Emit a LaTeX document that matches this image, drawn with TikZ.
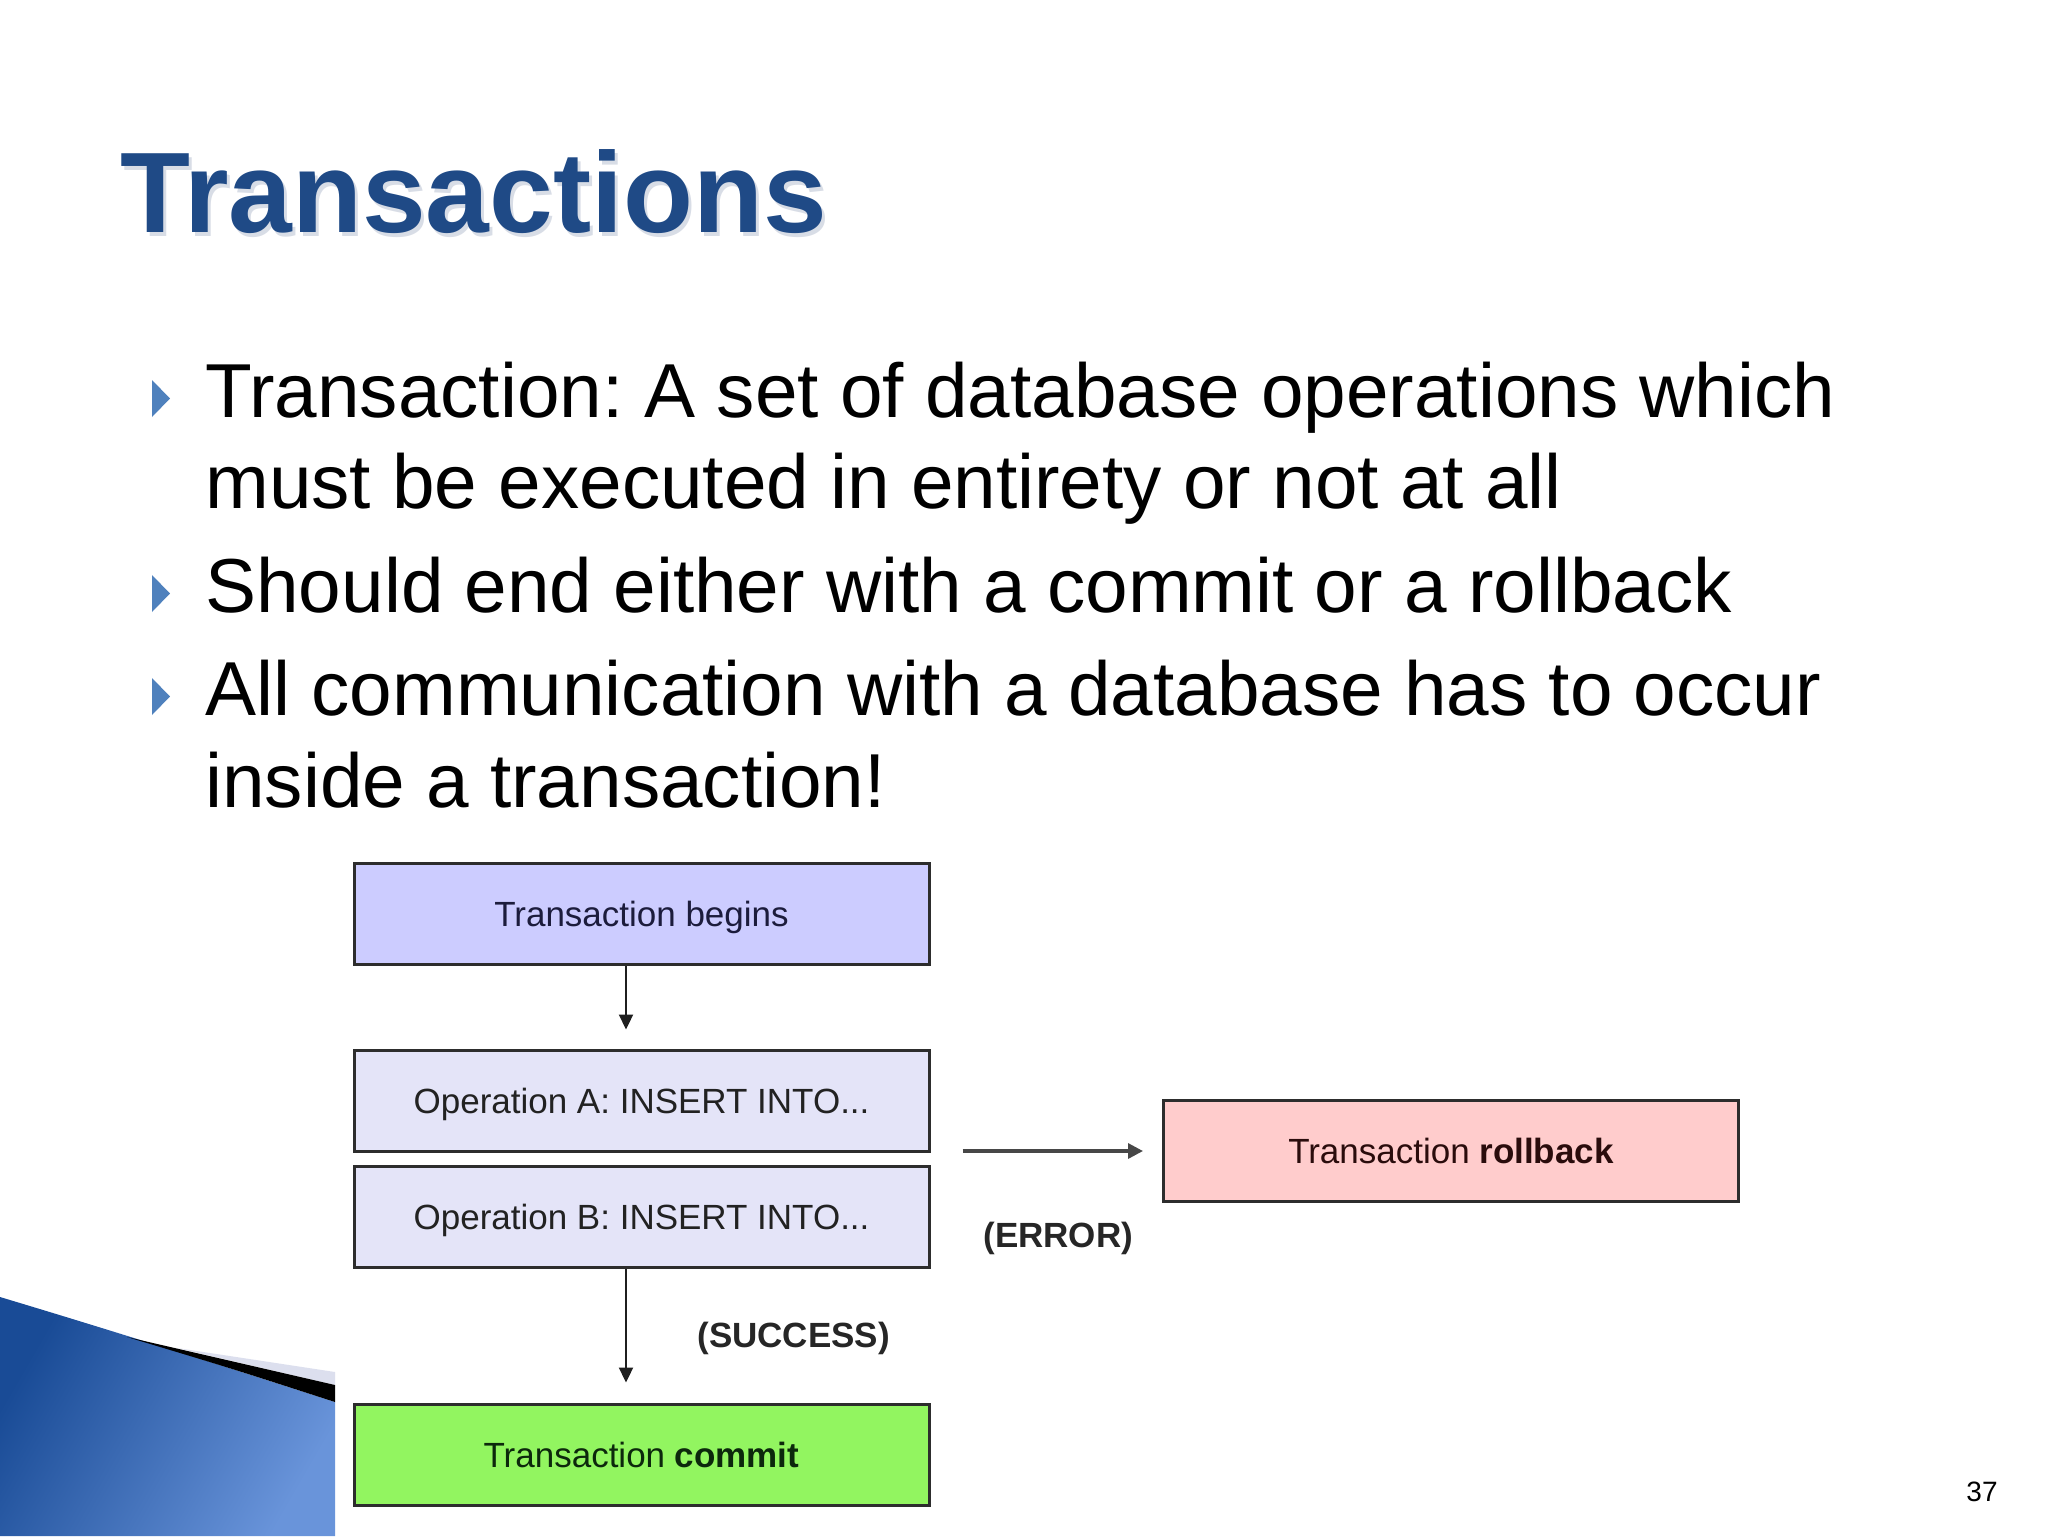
\documentclass[tikz,border=0pt]{standalone}
\usepackage{fontspec}
\setmainfont{Liberation Sans}
\usetikzlibrary{arrows.meta}
\frenchspacing
\definecolor{titleblue}{RGB}{31,74,134}
\definecolor{titleshade}{RGB}{170,180,200}
\definecolor{bulletblue}{RGB}{79,129,189}
\definecolor{boxline}{RGB}{45,45,45}
\definecolor{beginfill}{RGB}{204,204,255}
\definecolor{opfill}{RGB}{228,228,248}
\definecolor{rollfill}{RGB}{255,204,204}
\definecolor{commitfill}{RGB}{146,245,96}
\definecolor{begintext}{RGB}{28,28,60}
\definecolor{optext}{RGB}{34,34,34}
\definecolor{rolltext}{RGB}{42,12,12}
\definecolor{committext}{RGB}{12,40,12}
\definecolor{swdark}{RGB}{25,75,150}
\definecolor{swlight}{RGB}{105,148,218}
\definecolor{swband}{RGB}{220,223,238}
\tikzset{
  flowbox/.style={draw=boxline, line width=1.5pt, minimum width=287.5pt,
    minimum height=50.5pt, inner sep=0pt, text height=12.53pt, text depth=0pt,
    font=\fontsize{17.5}{20}\selectfont},
  flowarrow/.style={draw=black!88, line width=1.1pt,
    -{Triangle[length=7.5pt,width=7pt]}},
  errarrow/.style={draw=black!72, line width=1.6pt,
    -{Triangle[length=7.5pt,width=7.5pt]}},
  flowlabel/.style={anchor=base west, inner sep=0pt, text=black!85,
    font=\fontsize{17.5}{20}\selectfont\bfseries},
  bulletline/.style={anchor=base west, inner sep=0pt,
    font=\fontsize{38.25}{45}\selectfont},
}
\begin{document}
\begin{tikzpicture}[x=0.5pt,y=-0.5pt]
\useasboundingbox (0,0) rectangle (2048,1536);
\fill[white] (0,0) rectangle (2048,1536);

% title
\node[anchor=base west, inner sep=0pt, text=titleshade, opacity=0.45,
  font=\fontsize{57.25}{60}\selectfont\bfseries] (titleshadow) at (123,236) {Transactions};
\node[anchor=base west, inner sep=0pt, text=titleblue,
  font=\fontsize{57.25}{60}\selectfont\bfseries] (title) at (120,232) {Transactions};

% bullets
\foreach \b in {417,612,715}{
  \fill[bulletblue] (152,\b-37) -- (170,\b-18.5) -- (152,\b) -- cycle;
}
\node[bulletline] (l1) at (205,417) {Transaction: A set of database operations which};
\node[bulletline] (l2) at (205,508) {must be executed in entirety or not at all};
\node[bulletline] (l3) at (205,612) {Should end either with a commit or a rollback};
\node[bulletline] (l4) at (205,715) {All communication with a database has to occur};
\node[bulletline] (l5) at (205,807) {inside a transaction!};

% bottom-left swoosh
\shade[left color=swdark, right color=swlight, shading angle=60]
  (0,1297) .. controls (120,1333) and (230,1368) .. (335,1402) -- (335,1536) -- (0,1536) -- cycle;
\fill[swband] (177,1348) -- (335,1372) -- (335,1385) -- cycle;
\fill[black] (127,1337) -- (335,1385) -- (335,1402) .. controls (230,1368) .. (127,1337) -- cycle;

% flow diagram
\node[flowbox, fill=beginfill, text=begintext] (begins) at (641.5,914) {Transaction begins};
\node[flowbox, fill=opfill, text=optext] (opA) at (641.5,1100.5) {Operation A: INSERT INTO...};
\node[flowbox, fill=opfill, text=optext] (opB) at (641.5,1217) {Operation B: INSERT INTO...};
\node[flowbox, fill=commitfill, text=committext] (commit) at (641.5,1454.5) {Transaction \textbf{commit}};
\node[flowbox, fill=rollfill, text=rolltext] (rollback) at (1451,1151) {Transaction \textbf{rollback}};

\draw[flowarrow, shorten >=9.5pt] ([xshift=-7.75pt]begins.south) -- ([xshift=-7.75pt]opA.north);
\draw[flowarrow, shorten >=10pt] ([xshift=-7.75pt]opB.south) -- ([xshift=-7.75pt]commit.north);
\draw[errarrow, shorten <=16pt, shorten >=9.5pt] (opA.east |- rollback.west) -- (rollback.west);

\node[flowlabel] (success) at (697,1347) {(SUCCESS)};
\node[flowlabel] (error) at (983,1247) {(ERROR)};

% page number
\node[anchor=base east, inner sep=0pt, font=\fontsize{14}{16}\selectfont] (pagenum) at (1998,1501) {37};
\end{tikzpicture}
\end{document}
